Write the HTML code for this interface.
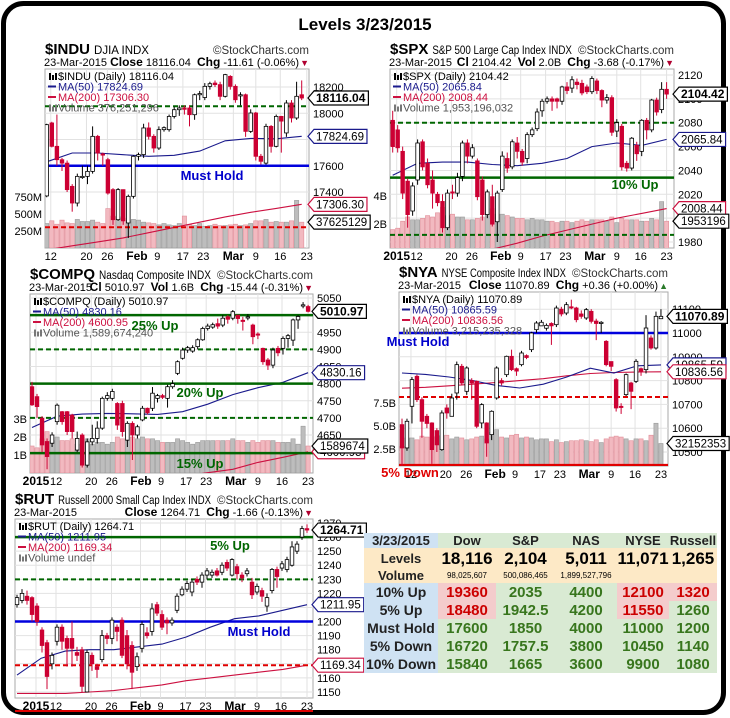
<!DOCTYPE html>
<html><head><meta charset="utf-8">
<style>
html,body{margin:0;padding:0;background:#fff;}
body{width:730px;height:718px;position:relative;overflow:hidden;font-family:"Liberation Sans",sans-serif;}
#chart{position:absolute;left:0;top:0;}
#levels-table{position:absolute;left:364px;top:533px;border-collapse:collapse;table-layout:fixed;font-family:"Liberation Sans",sans-serif;font-weight:bold;}
#levels-table td{padding:0;text-align:center;white-space:nowrap;overflow:hidden;line-height:1;}
.lab{background:#cfe2f3;color:#222;font-size:13px;}
.hd{background:#d9ead3;color:#222;font-size:13px;}
.lv{background:#fde9c6;}
.g{background:#d9ead3;color:#38761d;font-size:15px;}
.r{background:#f4cccc;color:#cc0000;font-size:15px;}
</style></head>
<body>
<svg id="chart" width="730" height="718" xmlns="http://www.w3.org/2000/svg">
<rect x="3.5" y="3.5" width="720" height="709" rx="20" ry="20" fill="#fff" stroke="#000" stroke-width="5"/>
<text x="365" y="30" text-anchor="middle" font-family="Liberation Sans" font-weight="bold" font-size="17">Levels 3/23/2015</text>
</svg>

<table id="levels-table">
<colgroup><col style="width:74px"><col style="width:58px"><col style="width:59px"><col style="width:62px"><col style="width:52px"><col style="width:48px"></colgroup>
<tr style="height:15px"><td class="lab">3/23/2015</td><td class="hd">Dow</td><td class="hd">S&amp;P</td><td class="hd">NAS</td><td class="hd">NYSE</td><td class="hd">Russell</td></tr>
<tr style="height:20px"><td class="lv" style="font-size:13px;color:#222">Levels</td><td class="lv" style="font-size:17px">18,116</td><td class="lv" style="font-size:17px">2,104</td><td class="lv" style="font-size:17px">5,011</td><td class="lv" style="font-size:17px">11,071</td><td class="lv" style="font-size:17px">1,265</td></tr>
<tr style="height:15px"><td class="lv" style="font-size:13px;color:#222">Volume</td><td class="lv" style="font-size:8px;font-weight:normal">98,025,607</td><td class="lv" style="font-size:8px;font-weight:normal">500,086,465</td><td class="lv" style="font-size:8px;font-weight:normal">1,899,527,796</td><td class="lv"></td><td class="lv"></td></tr>
<tr style="height:18px"><td class="lab" style="font-size:14px">10% Up</td><td class="r">19360</td><td class="g">2035</td><td class="g">4400</td><td class="r">12100</td><td class="r">1320</td></tr>
<tr style="height:18px"><td class="lab" style="font-size:14px">5% Up</td><td class="r">18480</td><td class="g">1942.5</td><td class="g">4200</td><td class="r">11550</td><td class="g">1260</td></tr>
<tr style="height:18px"><td class="lab" style="font-size:14px">Must Hold</td><td class="g">17600</td><td class="g">1850</td><td class="g">4000</td><td class="g">11000</td><td class="g">1200</td></tr>
<tr style="height:18px"><td class="lab" style="font-size:14px">5% Down</td><td class="g">16720</td><td class="g">1757.5</td><td class="g">3800</td><td class="g">10450</td><td class="g">1140</td></tr>
<tr style="height:18px"><td class="lab" style="font-size:14px">10% Down</td><td class="g">15840</td><td class="g">1665</td><td class="g">3600</td><td class="g">9900</td><td class="g">1080</td></tr>
</table>

<script>
// ---- shared date ticks ----
const tickText = ['2015','12','20','26','Feb','9','17','23','Mar','9','16','23'];
const tickGlobal = [0.8,4.8,11.8,15.9,21.7,25.7,30.7,34.7,40.6,45,49.8,55];

// ---- $INDU ----
const induOpen = [17370,17926,17748,17646,17620,17443,17316,17519,17519,17557,17824,17690,17646,17418,17189,17418,17164,17367,17672,17685,17888,17824,17735,17875,17875,17976,18027,18040,18040,17989,18141,18120,18205,18230,18218,18129,18281,18205,18141,18141,17862,18002,17672,17620,17900,17748,17976,17850,18078,17964,18141];
const induClose = [17913,17748,17646,17620,17418,17316,17519,17519,17557,17824,17697,17685,17392,17189,17418,17180,17367,17672,17685,17888,17824,17735,17875,17890,17976,18027,18040,18030,17989,18141,18150,18205,18225,18218,18129,18294,18205,18103,18141,17862,18002,17672,17634,17900,17748,17976,17940,18078,17964,18129,18116];
const induHigh = [17920,17935,17990,17660,17640,17460,17540,17600,17600,17900,17835,17700,17660,17430,17430,17420,17380,17680,17700,17920,17930,17840,17900,17900,17990,18050,18060,18060,18060,18150,18170,18230,18240,18250,18240,18300,18290,18220,18160,18150,18030,18010,17690,17920,17910,17990,17980,18100,18100,18240,18250];
const induLow = [17360,17740,17600,17560,17400,17250,17290,17500,17460,17540,17640,17600,17380,17150,17180,17150,17050,17350,17640,17660,17800,17700,17720,17860,17860,17960,17980,17990,17900,17950,18100,18100,18180,18200,18100,18120,18180,18080,18060,17820,17850,17640,17610,17610,17700,17740,17700,17820,17930,17950,18100];
const induVol = [360,400,350,410,370,360,420,390,390,410,380,360,580,470,460,440,400,420,410,380,370,360,340,360,340,330,360,470,340,330,360,320,330,350,330,330,340,350,330,340,360,400,400,420,380,390,380,380,400,700,380];
const induMa50 = [17630,17697,17697,17684,17672,17680,17712,17790,17808,17805,17824];
const induMa200 = [16960,16990,17020,17050,17090,17130,17170,17210,17245,17275,17306];

// ---- $SPX ----
const spxOpen = [2082,2074,2056,2031,2006,2032,2064,2046,2032,2020,2014,1992,2022,2021,2035,2063,2052,2048,2032,2003,2018,1997,2024,2050,2043,2063,2056,2050,2070,2075,2090,2098,2100,2100,2098,2110,2109,2114,2113,2110,2106,2115,2107,2099,2101,2073,2077,2046,2042,2061,2056,2082,2074,2099,2091,2108];
const spxClose = [2060,2059,2021,2003,2027,2063,2043,2028,2021,2013,1992,2021,2021,2034,2063,2052,2059,2018,2003,2022,1995,2021,2052,2042,2064,2056,2047,2070,2074,2089,2098,2100,2098,2098,2110,2107,2116,2112,2105,2106,2117,2107,2099,2101,2072,2080,2043,2042,2067,2054,2082,2074,2099,2089,2108,2104];
const spxHigh = [2090,2078,2060,2033,2030,2066,2066,2050,2040,2022,2020,2024,2028,2038,2065,2066,2062,2050,2035,2024,2028,2023,2056,2055,2066,2068,2058,2072,2076,2092,2100,2102,2102,2101,2111,2114,2119,2117,2116,2112,2119,2117,2108,2104,2103,2083,2079,2048,2068,2064,2083,2084,2100,2101,2114,2114];
const spxLow = [2055,2055,2016,1992,2002,2028,2040,2025,2008,2010,1988,1990,2016,2018,2031,2046,2050,2015,1998,2000,1993,1980,2022,2038,2041,2050,2044,2046,2068,2073,2085,2096,2090,2092,2095,2104,2105,2108,2103,2104,2104,2104,2093,2096,2069,2068,2040,2039,2040,2048,2052,2066,2072,2086,2088,2100];
const spxVol = [1.6,1.7,2.2,2.5,2.3,2.3,2.4,2.6,2.5,2.8,3.2,2.6,2.7,2.5,2.5,2.3,2.3,2.4,2.5,2.8,3.1,2.7,2.7,2.6,2.5,2.4,2.4,2.3,2.4,2.3,2.3,2.2,2.2,2.1,2.2,2.2,2.1,2.2,2.3,2.2,2.3,2.3,2.3,2.2,2.5,2.1,2.4,2.3,2.3,2.3,2.2,2.2,2.4,2.3,3.6,2.2];
const spxMa50 = [2036,2046,2047,2047,2045,2044,2046,2050,2060,2063,2061,2066];
const spxMa200 = [1950,1955,1960,1966,1974,1979,1985,1990,1995,2000,2004,2008];

// ---- $COMPQ ----
const compqOpen = [4791,4762,4699,4631,4626,4689,4718,4718,4708,4606,4650,4562,4630,4640,4670,4757,4757,4742,4742,4635,4684,4650,4694,4728,4728,4757,4765,4757,4791,4830,4874,4898,4895,4908,4928,4961,4965,4975,4971,4995,4991,5000,4985,4995,4971,4945,4903,4869,4854,4903,4903,4932,4927,4986,5030,5025];
const compqClose = [4738,4733,4621,4587,4650,4737,4689,4660,4660,4640,4562,4630,4640,4670,4757,4765,4777,4679,4660,4684,4650,4674,4728,4715,4772,4765,4760,4791,4800,4864,4898,4905,4905,4928,4961,4968,4972,4968,4991,4988,5010,4990,4983,4995,4937,4942,4864,4854,4898,4890,4932,4940,4986,4996,5030,5011];
const compqHigh = [4805,4770,4705,4640,4658,4742,4720,4720,4712,4660,4655,4640,4680,4690,4762,4775,4785,4746,4750,4690,4690,4680,4735,4730,4790,4770,4770,4797,4810,4868,4905,4910,4912,4932,4966,4975,4978,4990,5000,5000,5015,5000,4995,5003,4975,4950,4905,4875,4905,4910,4938,4945,4990,5000,5038,5030];
const compqLow = [4735,4700,4600,4550,4615,4680,4680,4650,4640,4600,4555,4555,4620,4625,4665,4750,4750,4665,4645,4615,4577,4640,4690,4710,4720,4745,4755,4730,4785,4825,4870,4890,4890,4900,4925,4955,4960,4960,4965,4975,4985,4975,4955,4985,4915,4930,4855,4840,4845,4880,4885,4905,4910,4960,5020,5008];
const compqVol = [1.5,1.4,1.9,2.3,1.8,2.0,1.8,1.8,1.9,1.6,2.0,1.9,1.6,1.7,1.7,1.6,1.7,2.0,1.9,1.8,2.0,1.9,2.0,1.9,1.9,1.8,1.7,1.7,1.7,1.9,1.8,1.7,1.6,1.7,1.8,1.8,1.8,1.8,1.8,1.8,1.9,1.8,1.8,1.7,1.8,1.7,1.8,1.8,1.8,1.7,1.7,1.7,1.9,1.6,2.6,1.5];
const compqMa50 = [4672,4705,4711,4713,4712,4710,4718,4740,4768,4788,4804,4832];
const compqMa200 = [4470,4480,4490,4500,4510,4520,4530,4540,4550,4570,4585,4601];

// ---- $NYA ----
const nyaOpen = [10615,10517,10692,10818,10720,10650,10622,10590,10510,10685,10650,10748,10860,10755,10800,10797,10622,10622,10573,10727,10800,10825,10902,10850,10867,10905,10930,11014,11030,11020,11040,11035,11100,11084,11110,11105,11080,11063,11091,11050,11040,10965,10880,10804,10692,10741,10790,10797,10850,10846,10979,10937,11060];
const nyaClose = [10517,10629,10804,10720,10629,10620,10510,10530,10664,10664,10727,10867,10790,10853,10790,10608,10699,10538,10671,10853,10790,10902,10846,10840,10916,10897,11000,11042,11045,11032,11030,11105,11080,11119,11105,11056,11070,11098,11049,11040,11045,10867,10860,10685,10690,10825,10755,10881,10840,11021,10937,11070,11070];
const nyaHigh = [10640,10640,10815,10825,10730,10660,10625,10600,10675,10700,10745,10880,10870,10860,10810,10800,10705,10625,10675,10860,10810,10905,10930,10855,10925,10910,11005,11050,11055,11040,11045,11115,11110,11130,11140,11110,11095,11105,11100,11060,11050,10970,10880,10810,10705,10830,10795,10890,10855,11075,10990,11090,11100];
const nyaLow = [10440,10505,10620,10710,10560,10600,10450,10500,10505,10640,10650,10720,10780,10740,10720,10600,10600,10480,10550,10720,10780,10815,10840,10820,10860,10890,10920,11000,11035,11010,10950,11025,11070,11075,11100,11045,11060,11055,11040,10970,11000,10860,10840,10670,10660,10735,10680,10790,10820,10830,10930,10930,11060];
const nyaVol = [2.8,3.7,3.7,3.5,3.9,3.8,3.8,3.9,4.0,4.0,3.6,3.8,3.7,3.5,3.6,3.8,3.9,3.6,4.3,4.6,3.8,3.7,4.0,4.1,3.7,3.8,3.7,3.5,3.6,3.6,3.3,3.5,3.2,3.3,3.4,3.4,3.5,3.4,3.3,3.5,3.2,3.6,3.8,3.9,3.8,3.6,3.4,3.6,3.6,3.4,4.0,5.3,3.1];
const nyaMa50 = [10832,10826,10815,10800,10780,10769,10785,10815,10852,10832,10862,10866];
const nyaMa200 = [10768,10772,10778,10785,10792,10800,10808,10820,10830,10834,10836,10837];

// ---- $RUT ----
const rutOpen = [1212,1215,1218,1217,1211,1194,1185,1170,1186,1196,1188,1188,1178,1180,1150,1176,1168,1173,1190,1188,1196,1201,1190,1183,1168,1181,1192,1193,1212,1205,1201,1199,1208,1219,1223,1221,1230,1228,1233,1233,1236,1235,1242,1233,1239,1233,1234,1228,1221,1222,1211,1222,1237,1238,1237,1240,1250,1260,1266];
const rutClose = [1217,1220,1215,1205,1200,1183,1161,1176,1196,1186,1181,1181,1176,1154,1178,1170,1166,1190,1188,1201,1193,1176,1170,1164,1175,1198,1190,1209,1206,1196,1199,1201,1218,1223,1227,1228,1228,1233,1236,1235,1233,1240,1238,1244,1234,1231,1236,1219,1225,1218,1217,1237,1232,1241,1244,1253,1255,1266,1265];
const rutHigh = [1219,1223,1222,1218,1213,1196,1187,1178,1198,1198,1190,1200,1182,1182,1180,1178,1170,1194,1192,1203,1198,1203,1194,1186,1178,1200,1196,1213,1214,1208,1203,1203,1220,1225,1229,1230,1232,1235,1238,1237,1238,1242,1244,1245,1241,1235,1238,1231,1227,1224,1220,1238,1239,1243,1246,1257,1257,1268,1269];
const rutLow = [1210,1213,1212,1200,1197,1178,1152,1166,1183,1180,1168,1168,1172,1150,1150,1165,1160,1171,1184,1184,1186,1174,1166,1152,1165,1178,1188,1190,1204,1194,1191,1197,1206,1218,1221,1218,1226,1224,1230,1231,1232,1233,1236,1232,1230,1228,1232,1216,1219,1214,1207,1220,1224,1236,1235,1239,1248,1258,1263];
const rutMa50 = [1162,1174,1179,1180,1180,1182,1184,1189,1196,1202,1204,1208,1212];
const rutMa200 = [1149,1149,1149,1150,1151,1153,1155,1158,1160,1162,1164,1166,1169];

const NS = 'http://www.w3.org/2000/svg';
const svg = document.getElementById('chart');
function mk(tag, attrs, parent, text) {
  const e = document.createElementNS(NS, tag);
  for (const k in attrs) e.setAttribute(k, attrs[k]);
  if (text !== undefined) e.textContent = text;
  (parent || svg).appendChild(e);
  return e;
}
const FONT = 'Liberation Sans';

const panels = [
 {id:'indu', sym:'$INDU', desc:'DJIA  INDX', x0:45, y0:69, x1:309, y1:248, vTop:18200, yTop:87, ppu:0.13125,
  cx0:46.7, dx:5.1, off:4, o:induOpen, c:induClose, h:induHigh, l:induLow, vol:induVol, vZero:248, vppu:0.068,
  ma50:induMa50, ma200:induMa200, yticks:[17400,17600,17800,18000,18200], vticks:[[250,'250M'],[500,'500M'],[750,'750M']],
  line2:['Close',' 18116.04  ','Chg',' -11.61 (-0.06%)'], down:true, legend:'$INDU (Daily) 18116.04', m50:'MA(50) 17824.69', m200:'MA(200) 17306.30', vleg:'Volume 376,251,296',
  boxes:['18116.04','17824.69','17306.30','37625129'],
  levels:[{v:18053,col:'#006600',dash:'5,3',w:2},{v:17600,col:'#0000dd',dash:'',w:2.5},{v:17131,col:'#e00000',dash:'5,3',w:2}],
  notes:[{t:'Must Hold',x:212,y:180,col:'#0000cc'}]},
 {id:'spx', sym:'$SPX', desc:'S&P 500 Large Cap Index  INDX', x0:390, y0:69, x1:674, y1:248, vTop:2120, yTop:75, ppu:1.193,
  cx0:392.7, dx:4.98, off:0, o:spxOpen, c:spxClose, h:spxHigh, l:spxLow, vol:spxVol, vZero:252, vppu:14,
  ma50:spxMa50, ma200:spxMa200, yticks:[1980,2000,2020,2040,2060,2080,2100,2120], vticks:[[2,'2B'],[4,'4B']],
  line2:['Cl',' 2104.42  ','Vol',' 2.0B  ','Chg',' -3.68 (-0.17%)'], down:true, legend:'$SPX (Daily) 2104.42', m50:'MA(50) 2065.84', m200:'MA(200) 2008.44', vleg:'Volume 1,953,196,032',
  boxes:['2104.42','2065.84','2008.44','1953196'],
  levels:[{v:2080,col:'#006600',dash:'5,3',w:2},{v:2034,col:'#006600',dash:'',w:2.5},{v:1986,col:'#006600',dash:'5,3',w:2}],
  notes:[{t:'10% Up',x:635,y:189,col:'#006600'}]},
 {id:'compq', sym:'$COMPQ', desc:'Nasdaq Composite  INDX', x0:30, y0:294, x1:313, y1:473, vTop:5050, yTop:298, ppu:0.3425,
  cx0:32, dx:5.02, off:0, o:compqOpen, c:compqClose, h:compqHigh, l:compqLow, vol:compqVol, vZero:473, vppu:18,
  ma50:compqMa50, ma200:compqMa200, yticks:[4650,4700,4750,4800,4850,4900,4950,5000,5050], vticks:[[1,'1B'],[2,'2B'],[3,'3B']],
  line2:['Cl',' 5010.97  ','Vol',' 1.6B  ','Chg',' -15.44 (-0.31%)'], down:true, legend:'$COMPQ (Daily) 5010.97', m50:'MA(50) 4830.16', m200:'MA(200) 4600.95', vleg:'Volume 1,589,674,240',
  boxes:['5010.97','4830.16','4600.95','1589674'],
  levels:[{v:5000,col:'#006600',dash:'',w:2.5},{v:4900,col:'#006600',dash:'5,3',w:2},{v:4800,col:'#006600',dash:'',w:2.5},{v:4700,col:'#006600',dash:'5,3',w:2},{v:4597,col:'#006600',dash:'',w:2.5}],
  notes:[{t:'25% Up',x:155,y:330,col:'#006600'},{t:'20% Up',x:200,y:397,col:'#006600'},{t:'15% Up',x:200,y:468,col:'#006600'}]},
 {id:'nya', sym:'$NYA', desc:'NYSE Composite Index  INDX', x0:399, y0:292, x1:668, y1:466, vTop:11000, yTop:333, ppu:0.238,
  cx0:402, dx:4.98, off:3, o:nyaOpen, c:nyaClose, h:nyaHigh, l:nyaLow, vol:nyaVol, vZero:472, vppu:9.2,
  ma50:nyaMa50, ma200:nyaMa200, yticks:[10500,10600,10700,10800,10900,11000,11100], vticks:[[2.5,'2.5B'],[5,'5.0B'],[7.5,'7.5B']],
  line2:['Close',' 11070.89  ','Chg',' +0.36 (+0.00%)'], down:false, legend:'$NYA (Daily) 11070.89', m50:'MA(50) 10865.59', m200:'MA(200) 10836.56', vleg:'Volume 3,215,235,328',
  boxes:['11070.89','10865.59','10836.56','32152353'],
  levels:[{v:11000,col:'#0000dd',dash:'',w:2.5},{v:10731,col:'#e00000',dash:'5,3',w:2},{v:10445,col:'#e00000',dash:'',w:2.5}],
  notes:[{t:'Must Hold',x:418,y:346,col:'#0000cc'},{t:'5% Down',x:410,y:477,col:'#e00000'}]},
 {id:'rut', sym:'$RUT', desc:'Russell 2000 Small Cap Index  INDX', x0:15, y0:519, x1:313, y1:698, vTop:1270, yTop:523, ppu:1.408,
  cx0:17, dx:5.0, off:-3, o:rutOpen, c:rutClose, h:rutHigh, l:rutLow, vol:null,
  ma50:rutMa50, ma200:rutMa200, yticks:[1150,1160,1170,1180,1190,1200,1210,1220,1230,1240,1250,1260,1270], vticks:[],
  line2:['Close',' 1264.71  ','Chg',' -1.66 (-0.13%)'], down:true, legend:'$RUT (Daily) 1264.71', m50:'MA(50) 1211.95', m200:'MA(200) 1169.34', vleg:'Volume undef',
  boxes:['1264.71','1211.95','1169.34'],
  levels:[{v:1260,col:'#006600',dash:'',w:2.5},{v:1230,col:'#006600',dash:'5,3',w:2},{v:1200,col:'#0000dd',dash:'',w:2.5},{v:1169,col:'#e00000',dash:'5,3',w:2}],
  notes:[{t:'5% Up',x:230,y:550,col:'#006600'},{t:'Must Hold',x:259,y:636,col:'#0000cc'}]}
];

function drawPanel(p) {
  const g = mk('g', {});
  
  
  const yS = v => p.yTop + (p.vTop - v) * p.ppu;
  const xS = i => p.cx0 + i * p.dx;
  const vS = v => p.vZero - v * p.vppu;
  const W = p.x1 - p.x0, H = p.y1 - p.y0;

  // header
  const t1 = mk('text', {x:p.x0, y:p.y0-15, 'font-family':FONT, 'font-size':15, 'font-weight':'bold'}, g, p.sym);
  
  
  const symW = t1.getComputedTextLength();
  const t3 = mk('text', {x:p.x1, y:p.y0-15, 'text-anchor':'end', 'font-family':FONT, 'font-size':11.5, fill:'#333'}, g, '\u00A9StockCharts.com');
  
  
  const cpW = t3.getComputedTextLength();
  const dx0 = p.x0 + symW + 4;
  const t2 = mk('text', {x:dx0, y:p.y0-15, 'font-family':FONT, 'font-size':11.5}, g, p.desc);
  
  
  const maxW = p.x1 - cpW - 6 - dx0;
  if (t2.getComputedTextLength() > maxW) { t2.setAttribute('textLength', maxW); t2.setAttribute('lengthAdjust', 'spacingAndGlyphs'); }
  const t4 = mk('text', {x:p.x0-1, y:p.y0-3, 'font-family':FONT, 'font-size':11}, g, '23-Mar-2015');
  
  
  const t5 = mk('text', {x:p.x1-10, y:p.y0-3, 'text-anchor':'end', 'font-family':FONT, 'font-size':11}, g);
  
  
  p.line2.forEach((s, k) => {
    const ts = mk('tspan', {'font-weight':k % 2 === 0 ? 'bold' : 'normal', 'font-size':k % 2 === 0 ? 12 : 11}, t5, s.replace(/ /g, '\u00A0'));
  });
  const arr = mk('text', {x:p.x1, y:p.y0-3, 'text-anchor':'end', 'font-family':FONT, 'font-size':9, fill:p.down?'#b00030':'#2a7a2a'}, g, p.down?'\u25BC':'\u25B2');
  
  

  // plot background & grid
  const bg = mk('rect', {x:p.x0, y:p.y0, width:W, height:H, fill:'#fff', stroke:'#aaa', 'stroke-width':1}, g);
  
  
  const clipId = 'clip-' + p.id;
  const cp = mk('clipPath', {id:clipId}, g);
  mk('rect', {x:p.x0, y:p.y0, width:W, height:H}, cp);
  const pg = mk('g', {'clip-path':'url(#' + clipId + ')'}, g);
  
  

  p.yticks.forEach(v => {
    const y = yS(v);
    const gl = mk('line', {x1:p.x0, x2:p.x1, y1:y, y2:y, stroke:'#e2e2e2', 'stroke-width':1}, pg);
    
    
    if (y > p.y0 - 2 && y < p.y1 + 2) {
      const tl = mk('text', {x:p.x1+4, y:y+4, 'font-family':FONT, 'font-size':11}, g, String(v));
      
      
    }
  });
  tickGlobal.forEach((tg, k) => {
    const x = xS(tg - p.off);
    if (x < p.x0 - 2 || x > p.x1 + 4) return;
    const gl = mk('line', {x1:x, x2:x, y1:p.y0, y2:p.y1, stroke:'#e2e2e2', 'stroke-width':1}, pg);
    
    
    const bold = ['2015','Feb','Mar'].includes(tickText[k]);
    const dl = mk('text', {x:x, y:p.y1+12, 'text-anchor':'middle', 'font-family':FONT, 'font-size':bold?12:11, 'font-weight':bold?'bold':'normal'}, g, tickText[k]);
    
    
  });

  // volume
  if (p.vol) {
    p.vol.forEach((v, i) => {
      const up = p.c[i] >= p.o[i];
      const y = vS(v);
      const b = mk('rect', {x:xS(i)-p.dx/2+0.4, y:y, width:p.dx-0.8, height:p.vZero-y, fill:up?'#bdbdbd':'#f2b9c0', stroke:up?'#9a9a9a':'#e08d98', 'stroke-width':0.6}, pg);
      
      
    });
    p.vticks.forEach(vt => {
      const tl = mk('text', {x:p.x0-3, y:vS(vt[0])+4, 'text-anchor':'end', 'font-family':FONT, 'font-size':11}, g, vt[1]);
      
      
    });
  }

  // moving averages
  const maPath = arr => {
    const n = p.o.length - 1;
    return arr.map((v, k) => (k ? 'L' : 'M') + xS(k * n / (arr.length - 1)).toFixed(1) + ',' + yS(v).toFixed(1)).join(' ');
  };
  const m2 = mk('path', {d:maPath(p.ma200), fill:'none', stroke:'#cc1040', 'stroke-width':1.1}, pg);
  
  
  const m1 = mk('path', {d:maPath(p.ma50), fill:'none', stroke:'#1a1a8c', 'stroke-width':1.1}, pg);
  
  

  // level lines
  p.levels.forEach(lv => {
    const y = yS(lv.v);
    const ln = mk('line', {x1:p.x0, x2:p.x1, y1:y, y2:y, stroke:lv.col, 'stroke-width':lv.w, 'stroke-dasharray':lv.dash}, pg);
    
    
  });

  // candles
  p.o.forEach((ov, i) => {
    const cv = p.c[i], up = cv >= ov, x = xS(i);
    const wk = mk('line', {x1:x, x2:x, y1:yS(p.h[i]), y2:yS(p.l[i]), stroke:up?'#000':'#cc0033', 'stroke-width':1}, pg);
    
    
    const yt = yS(Math.max(ov, cv)), yb = yS(Math.min(ov, cv));
    const bd = mk('rect', {x:x-1.8, y:yt, width:3.6, height:Math.max(1.2, yb-yt), fill:up?'#fff':'#cc0033', stroke:up?'#000':'#cc0033', 'stroke-width':0.8}, pg);
    
    
  });

  // legend
  const lg = [[p.legend,'#000'],[p.m50,'#1a1a8c'],[p.m200,'#cc1040'],[p.vleg,'#555']];
  lg.forEach((L, k) => {
    const y = p.y0 + 11 + k * 10.5;
    if (k === 0 || k === 3) {
      [0,3,6].forEach((dx2, j) => {
        const ic = mk('rect', {x:p.x0+4+dx2, y:y-7+(j===1?2:0), width:2, height:j===1?5:7, fill:k===0?'#000':'#777'}, g);
        
        
      });
    } else {
      const ic = mk('line', {x1:p.x0+3, x2:p.x0+11, y1:y-4, y2:y-4, stroke:L[1], 'stroke-width':2}, g);
      
      
    }
    const tx = mk('text', {x:p.x0+13, y:y, 'font-family':FONT, 'font-size':11, fill:L[1]}, g, L[0]);
    
    
  });

  // notes
  p.notes.forEach(n => {
    const tx = mk('text', {x:n.x, y:n.y, 'text-anchor':'middle', 'font-family':FONT, 'font-size':13, 'font-weight':'bold', fill:n.col}, g, n.t);
    
    
  });

  // value boxes
  const last = p.o.length - 1;
  const bys = [yS(p.c[last]), yS(p.ma50[p.ma50.length-1]), yS(p.ma200[p.ma200.length-1])];
  if (p.vol) bys.push(vS(p.vol[last]));
  const bcols = ['#000','#1a1a8c','#cc1040','#000'];
  p.boxes.forEach((txt, k) => {
    const y = bys[k], x0 = p.x1 - 1;
    const bold = k === 0;
    const tx = mk('text', {x:x0+8, y:y+4, 'font-family':FONT, 'font-size':bold?12:11.5, 'font-weight':bold?'bold':'normal'}, g, txt);
    
    
    const tw = tx.getComputedTextLength();
    const bx = mk('path', {d:'M'+x0+','+y+' L'+(x0+6)+','+(y-7)+' L'+(x0+tw+11)+','+(y-7)+' L'+(x0+tw+11)+','+(y+7)+' L'+(x0+6)+','+(y+7)+' Z', fill:'#fff', stroke:bcols[k], 'stroke-width':1.2}, g);
    
    
    g.appendChild(tx);
  });
}
panels.forEach(drawPanel);
const rl = mk('line', {x1:15, x2:313, y1:711, y2:711, stroke:'#e00000', 'stroke-width':2});


</script>
</body></html>
